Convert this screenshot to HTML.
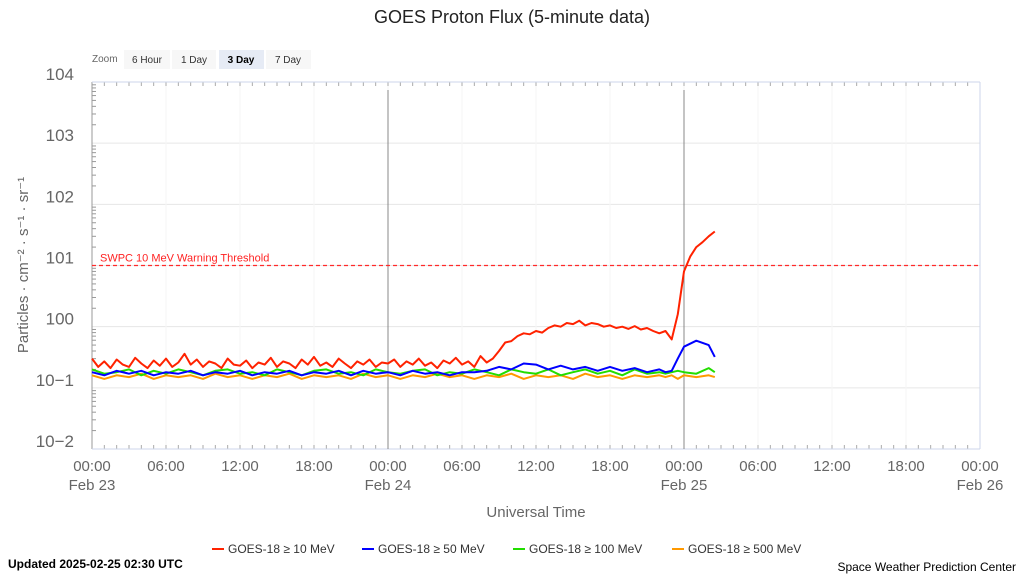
<!DOCTYPE html>
<html><head><meta charset="utf-8"><style>
body{margin:0;background:#fff;width:1024px;height:576px;overflow:hidden;font-family:"Liberation Sans",sans-serif}
svg text{font-family:"Liberation Sans",sans-serif}
</style></head><body>
<svg id="chart" width="1024" height="576">
<text x="512" y="23" text-anchor="middle" font-size="18" fill="#222">GOES Proton Flux (5-minute data)</text>
<text x="92" y="62" font-size="10" fill="#666">Zoom</text>
<g><rect x="124" y="50" width="46" height="19" fill="#f7f7f7"/><text x="147" y="63" text-anchor="middle" font-size="10" fill="#333">6 Hour</text></g>
<g><rect x="172" y="50" width="44" height="19" fill="#f7f7f7"/><text x="194" y="63" text-anchor="middle" font-size="10" fill="#333">1 Day</text></g>
<g><rect x="219" y="50" width="45" height="19" fill="#e6ebf5"/><text x="241" y="63" text-anchor="middle" font-size="10" font-weight="bold" fill="#000">3 Day</text></g>
<g><rect x="266" y="50" width="45" height="19" fill="#f7f7f7"/><text x="288" y="63" text-anchor="middle" font-size="10" fill="#333">7 Day</text></g>
<g id="grid"></g><g id="axes"></g><g id="series"></g>
<text transform="translate(28,265) rotate(-90)" text-anchor="middle" font-size="15" fill="#666">Particles · cm⁻² · s⁻¹ · sr⁻¹</text>
<text x="536" y="517" text-anchor="middle" font-size="15" fill="#666">Universal Time</text>
<g font-size="12" fill="#333">
<g><line x1="212" y1="549" x2="224" y2="549" stroke="#ff2200" stroke-width="2"/><text x="228" y="553">GOES-18 ≥ 10 MeV</text></g>
<g><line x1="362" y1="549" x2="374" y2="549" stroke="#0000ff" stroke-width="2"/><text x="378" y="553">GOES-18 ≥ 50 MeV</text></g>
<g><line x1="513" y1="549" x2="525" y2="549" stroke="#22dd00" stroke-width="2"/><text x="529" y="553">GOES-18 ≥ 100 MeV</text></g>
<g><line x1="672" y1="549" x2="684" y2="549" stroke="#ff9900" stroke-width="2"/><text x="688" y="553">GOES-18 ≥ 500 MeV</text></g>
</g>
<text x="8" y="568" font-size="12" font-weight="bold" fill="#000">Updated 2025-02-25 02:30 UTC</text>
<text x="1016" y="571" text-anchor="end" font-size="12" fill="#000">Space Weather Prediction Center</text>
</svg>
<script>
const yDecades=[-2,-1,0,1,2,3,4];
const yTickLabels=["10−2","10−1","100","101","102","103","104"];
const xTickHours=[0,6,12,18,24,30,36,42,48,54,60,66,72];
const xTickLabels=["00:00","06:00","12:00","18:00","00:00","06:00","12:00","18:00","00:00","06:00","12:00","18:00","00:00"];
const xDateLabels=["Feb 23","","","","Feb 24","","","","Feb 25","","","","Feb 26"];
const thresholdValue=10;
const times=[0,1,2,3,4,5,6,7,8,9,10,11,12,13,14,15,16,17,18,19,20,21,22,23,24,25,26,27,28,29,30,31,32,33,34,35,36,37,38,39,40,41,42,43,44,45,46,46.5,47,47.5,48,49,50,50.5];
const flux10=[0.30,0.22,0.27,0.21,0.29,0.24,0.22,0.31,0.25,0.21,0.28,0.23,0.30,0.22,0.26,0.36,0.24,0.29,0.22,0.27,0.25,0.21,0.30,0.24,
0.23,0.28,0.21,0.26,0.24,0.31,0.22,0.27,0.25,0.21,0.29,0.24,0.32,0.23,0.26,0.22,0.30,0.25,0.21,0.27,0.24,0.29,0.22,0.26,
0.25,0.29,0.22,0.27,0.24,0.30,0.23,0.26,0.21,0.28,0.25,0.31,0.24,0.27,0.22,0.33,0.26,0.30,
0.40,0.55,0.58,0.70,0.78,0.75,0.85,0.80,0.95,1.05,1.00,1.15,1.10,1.25,1.05,1.15,1.10,1.00,1.05,0.95,1.00,0.92,1.02,0.90,0.95,0.85,0.78,0.85,0.62,1.6,
8.0,14,20,24,30,36];
const times10=flux10.map((v,i)=>i*0.5);
const flux50=[0.18,0.16,0.19,0.17,0.19,0.16,0.18,0.17,0.19,0.16,0.18,0.17,0.19,0.16,0.18,0.17,0.19,0.16,0.18,0.17,0.19,0.16,0.19,0.17,0.18,0.16,0.19,0.17,0.18,0.16,0.18,0.18,0.19,0.22,0.20,0.25,0.24,0.20,0.23,0.20,0.22,0.19,0.22,0.19,0.21,0.18,0.20,0.18,0.19,0.30,0.47,0.59,0.50,0.32];
const flux100=[0.20,0.17,0.18,0.20,0.16,0.19,0.17,0.20,0.18,0.16,0.19,0.20,0.17,0.18,0.16,0.20,0.18,0.16,0.19,0.20,0.17,0.18,0.16,0.20,0.18,0.17,0.19,0.20,0.16,0.18,0.17,0.20,0.18,0.16,0.20,0.18,0.17,0.20,0.16,0.18,0.20,0.17,0.19,0.16,0.20,0.17,0.18,0.17,0.18,0.19,0.18,0.17,0.21,0.18];
const flux500=[0.16,0.14,0.16,0.15,0.17,0.14,0.16,0.15,0.16,0.14,0.17,0.15,0.16,0.14,0.16,0.15,0.17,0.14,0.16,0.15,0.16,0.14,0.17,0.15,0.16,0.14,0.16,0.15,0.17,0.15,0.16,0.14,0.16,0.15,0.17,0.14,0.16,0.15,0.16,0.14,0.17,0.15,0.16,0.14,0.16,0.15,0.16,0.15,0.16,0.14,0.16,0.15,0.16,0.15];

const NS="http://www.w3.org/2000/svg";
const X0=92,X1=980,Y0=449,Y1=82;
const xs=h=>X0+(X1-X0)*h/72;
const ys=v=>Y0-(Y0-Y1)*(Math.log10(v)+2)/6;
const yd=d=>Y0-(Y0-Y1)*(d+2)/6;
function mk(tag,attrs,parent){const e=document.createElementNS(NS,tag);for(const k in attrs)e.setAttribute(k,attrs[k]);parent.appendChild(e);return e;}
const grid=document.getElementById('grid'),axes=document.getElementById('axes'),ser=document.getElementById('series');
yDecades.forEach((d,i)=>{
  const g=mk('line',{x1:X0,x2:X1,y1:yd(d),y2:yd(d),stroke:'#e6e6e6'},grid);
  
  
  const t=mk('text',{x:74,y:yd(d)-2,'text-anchor':'end','font-size':17,fill:'#666'},axes);
  t.textContent=yTickLabels[i];
  
  
  if(d<4)for(let m=2;m<10;m++){const y=yd(d+Math.log10(m));mk('line',{x1:X0,x2:X0+4,y1:y,y2:y,stroke:'#999'},axes);}
});
xTickHours.forEach((h,i)=>{
  const x=xs(h);
  mk('line',{x1:x,x2:x,y1:Y1,y2:Y0,stroke:'#f6f6f6'},grid);
  const t=mk('text',{x:x,y:471,'text-anchor':'middle','font-size':15,fill:'#666'},axes);
  t.textContent=xTickLabels[i];
  
  
  if(xDateLabels[i]){const d=mk('text',{x:x,y:490,'text-anchor':'middle','font-size':15,fill:'#666'},axes);d.textContent=xDateLabels[i];
    
    }
});
for(let h=0;h<=72;h++){const x=xs(h);mk('line',{x1:x,x2:x,y1:Y0,y2:Y0-4,stroke:'#aaa'},axes);mk('line',{x1:x,x2:x,y1:Y1,y2:Y1+4,stroke:'#aaa'},axes);}
mk('line',{x1:X0,x2:X0,y1:Y1,y2:Y0,stroke:'#999'},axes);
mk('line',{x1:X0,x2:X1,y1:Y0,y2:Y0,stroke:'#ccd6eb'},axes);
mk('line',{x1:X0,x2:X1,y1:Y1,y2:Y1,stroke:'#ccd6eb'},axes);
mk('line',{x1:X1,x2:X1,y1:Y1,y2:Y0,stroke:'#ccd6eb'},axes);
[24,48].forEach(h=>{const l=mk('line',{x1:xs(h),x2:xs(h),y1:Y1+8,y2:Y0,stroke:'#888','stroke-width':1},axes);
  
  });
const th=mk('line',{x1:X0,x2:X1,y1:ys(thresholdValue),y2:ys(thresholdValue),stroke:'#ff2a2a','stroke-width':1.2,'stroke-dasharray':'4,3'},axes);


const tt=mk('text',{x:100,y:ys(thresholdValue)-4,'font-size':11,fill:'#ff2222'},axes);
tt.textContent='SWPC 10 MeV Warning Threshold';


function line(tms,vals,color,name){
  const d=vals.map((v,i)=>(i?'L':'M')+xs(tms[i]).toFixed(1)+','+ys(v).toFixed(1)).join('');
  const p=mk('path',{d:d,fill:'none',stroke:color,'stroke-width':2,'stroke-linejoin':'round'},ser);
  
  
}
line(times,flux500,'#ff9900','series-500mev');
line(times,flux100,'#22dd00','series-100mev');
line(times,flux50,'#0000ff','series-50mev');
line(times10,flux10,'#ff2200','series-10mev');
</script>
</body></html>
